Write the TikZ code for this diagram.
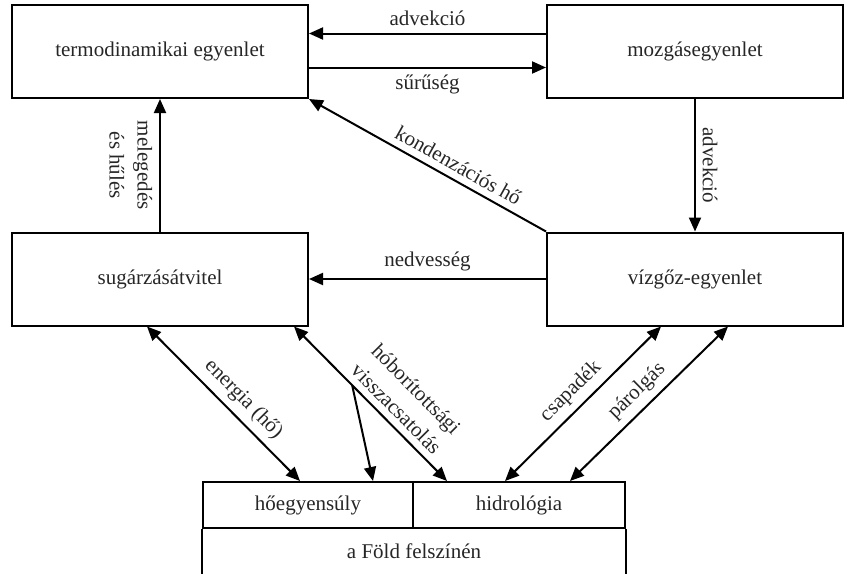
\documentclass[tikz,border=0pt]{standalone}
\usepackage{fontspec}
\setmainfont{Liberation Serif}
\usetikzlibrary{arrows.meta,positioning}

\begin{document}
\begin{tikzpicture}[x=0.5pt, y=-0.5pt,
  font=\fontsize{10.5}{14}\selectfont, text=black!85,
  box/.style={draw, line width=1pt, minimum width=148pt, minimum height=46.5pt, inner sep=0pt},
  cell/.style={draw, line width=1pt, minimum height=23pt, inner sep=0pt},
  arr/.style={-{Triangle[length=7pt,width=6pt]}, line width=1pt},
  dbl/.style={{Triangle[length=7pt,width=6pt]}-{Triangle[length=7pt,width=6pt]}, line width=1pt}]
  \useasboundingbox (0,0) rectangle (849,573);
  % Boxes
  \node[box] (termo) at (160,51.5) {termodinamikai egyenlet};
  \node[box] (mozg) at (695,51.5) {mozgásegyenlet};
  \node[box] (sug) at (160,279) {sugárzásátvitel};
  \node[box] (vizg) at (695,279) {vízgőz-egyenlet};
  % Surface box (open at the bottom)
  \node[cell, minimum width=105pt] (heg) at (308,505) {hőegyensúly};
  \node[cell, minimum width=106pt] (hidr) at (519,505) {hidrológia};
  \node (fold) at (414,551) {a Föld felszínén};
  \draw[line width=1pt] (heg.south west) -- ++(0,46);
  \draw[line width=1pt] (hidr.south east) -- ++(0,46);
  % Arrows between the equations
  \draw[arr] ([yshift=9pt]mozg.west) -- node[above] {advekció} ([yshift=9pt]termo.east);
  \draw[arr] ([yshift=-8pt]termo.east) -- node[below] {sűrűség} ([yshift=-8pt]mozg.west);
  \draw[arr] (mozg.south) -- node[rotate=-90, anchor=south] {advekció} (vizg.north);
  \draw[arr] (vizg.west) -- node[above] {nedvesség} (sug.east);
  \draw[arr] (sug.north) -- node[rotate=-90, anchor=north, align=center] {melegedés\\és hűlés} (termo.south);
  \draw[arr] (vizg.north west) -- node[pos=0.4, above, sloped] {kondenzációs hő} (termo.south east);
  % Arrows to the surface
  \draw[dbl] ([xshift=-6.5pt]sug.south) -- node[pos=0.55, above, sloped] {energia (hő)} ([xshift=-4pt]heg.north);
  \draw[dbl] ([xshift=-7.5pt]sug.south east) -- coordinate[pos=0.38] (fb)
    node[pos=0.6, above, sloped, align=center] {hóborítottsági\\visszacsatolás} ([xshift=17.5pt]hidr.north west);
  \draw[arr] (fb) -- ([xshift=-20.5pt]heg.north east);
  \draw[dbl] ([xshift=-7pt]hidr.north) -- node[above, sloped] {csapadék} ([xshift=57.5pt]vizg.south west);
  \draw[dbl] ([xshift=25.5pt]hidr.north) -- node[above, sloped] {párolgás} ([xshift=16.5pt]vizg.south);
\end{tikzpicture}
\end{document}
